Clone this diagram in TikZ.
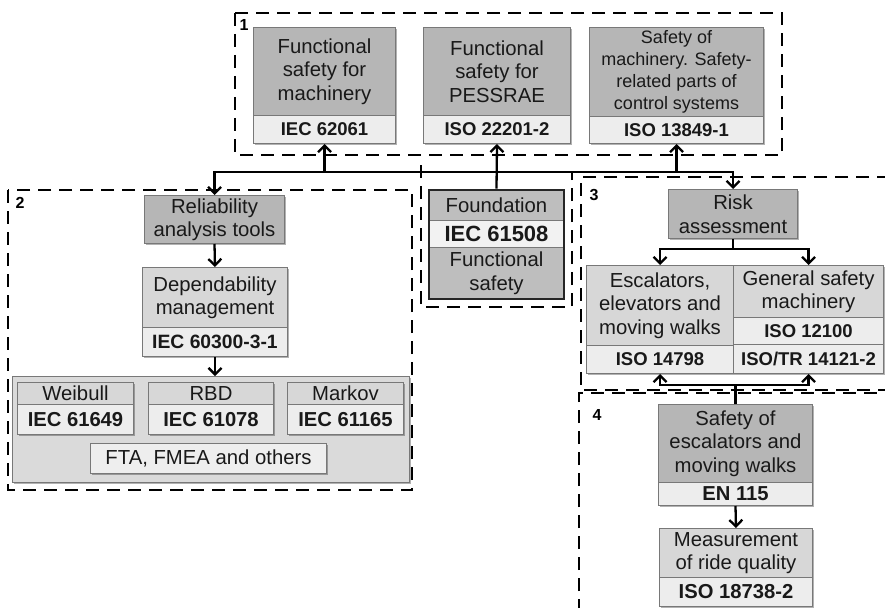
\documentclass[tikz,border=0pt]{standalone}
\usepackage{fontspec}
\setmainfont{Liberation Sans}
\usetikzlibrary{arrows.meta,shadows,fit}
\definecolor{darkfill}{RGB}{182,182,182}
\definecolor{lightfill}{RGB}{215,215,215}
\definecolor{codefill}{RGB}{237,237,237}
\definecolor{contfill}{RGB}{218,218,218}
\definecolor{ftafill}{RGB}{238,238,238}
\definecolor{edgegray}{RGB}{120,120,120}
\definecolor{fndfill}{RGB}{190,190,190}
\newcommand\txtfont{\fontsize{20.3}{23.5}\selectfont}
\newcommand\smalltxtfont{\fontsize{18}{22}\selectfont}
\newcommand\codefont{\fontsize{18.5}{22}\selectfont\bfseries}
\newcommand\codebigfont{\fontsize{20.2}{23}\selectfont\bfseries}
\newcommand\fndcodefont{\fontsize{22}{25}\selectfont\bfseries}
\tikzset{
  x=1pt, y=-1pt,
  base/.style={draw=edgegray, line width=1pt, inner sep=0pt, align=center, anchor=north west, font=\txtfont, text=black!90,
    drop shadow={shadow xshift=1.8pt, shadow yshift=-1.8pt, opacity=0.3, fill=black}},
  dark/.style={base, fill=darkfill},
  light/.style={base, fill=lightfill},
  code/.style={base, fill=codefill, font=\codefont},
  codebig/.style={base, fill=codefill, font=\codebigfont},
  region/.style={draw=black, line width=2.8pt, dash pattern=on 13pt off 8pt},
  regionlabel/.style={font=\fontsize{16}{18}\selectfont\bfseries, inner sep=0pt},
  conn/.style={line width=2.3pt},
  arr/.style={line width=2.3pt, -{Straight Barb[length=6.5pt,width=13pt,line width=2.3pt]}},
}
\begin{document}
\begin{tikzpicture}
\useasboundingbox (0,0) rectangle (885,607);

% ---------- region 1
\draw[region] (235,13) rectangle (782,155);
\node[regionlabel] (l1) at (244,25) {1};
\node[dark, minimum width=142pt, minimum height=88pt] (A) at (253,27) {Functional\\safety for\\machinery};
\node[code, minimum width=142pt, minimum height=28pt] (Ac) at (253,115) {IEC 62061};
\node[dark, minimum width=147pt, minimum height=88pt] (B) at (423,27) {Functional\\safety for\\PESSRAE};
\node[code, minimum width=147pt, minimum height=28pt] (Bc) at (423,115) {ISO 22201-2};
\node[dark, minimum width=174pt, minimum height=89pt, font=\smalltxtfont] (C) at (589,27) {Safety of\\machinery. Safety-\\related parts of\\control systems};
\node[code, minimum width=174pt, minimum height=27pt] (Cc) at (589,116) {ISO 13849-1};

% ---------- foundation
\draw[region] (421,165) -- (421,307) -- (572,307) -- (572,172);
\node[base, fill=fndfill, minimum width=134pt, minimum height=30pt] (F1) at (429,190) {Foundation};
\node[base, fill=codefill!70!white, minimum width=134pt, minimum height=27pt, font=\fndcodefont] (F2) at (429,220) {IEC 61508};
\node[base, fill=fndfill, minimum width=134pt, minimum height=51pt] (F3) at (429,247) {Functional\\safety};
\node[fit=(F1)(F3), draw=black!85, line width=2.8pt, inner sep=0pt] (F) {};

% ---------- region 2
\draw[region] (8,190) rectangle (412,490);
\node[regionlabel] (l2) at (20,203) {2};
\node[dark, minimum width=140pt, minimum height=48pt] (Rel) at (144,195) {Reliability\\analysis tools};
\node[light, minimum width=145pt, minimum height=60pt] (Dep) at (142,267) {Dependability\\management};
\node[code, font=\fontsize{19.3}{22}\selectfont\bfseries, minimum width=145pt, minimum height=29pt] (Depc) at (142,327) {IEC 60300-3-1};
\node[base, fill=contfill, minimum width=397pt, minimum height=106pt] (Cont) at (12,376) {};
\node[light, minimum width=116pt, minimum height=22pt] (Wei) at (17,382) {Weibull};
\node[codebig, minimum width=116pt, minimum height=30pt] (Weic) at (17,404) {IEC 61649};
\node[light, minimum width=125pt, minimum height=22pt] (RBD) at (148,382) {RBD};
\node[codebig, minimum width=125pt, minimum height=30pt] (RBDc) at (148,404) {IEC 61078};
\node[light, minimum width=116pt, minimum height=22pt] (Mar) at (287,382) {Markov};
\node[codebig, minimum width=116pt, minimum height=30pt] (Marc) at (287,404) {IEC 61165};
\node[base, fill=ftafill, minimum width=236pt, minimum height=30pt] (FTA) at (90,443) {FTA, FMEA and others};

% ---------- region 3
\draw[region] (890,177) -- (581,177) -- (581,390) -- (890,390);
\node[regionlabel] (l3) at (594,195) {3};
\node[dark, minimum width=129pt, minimum height=49pt] (Risk) at (668,189) {Risk\\assessment};
\node[light, minimum width=147pt, minimum height=80pt] (Esc) at (586,265) {Escalators,\\elevators and\\moving walks};
\node[code, minimum width=147pt, minimum height=28pt] (Escc) at (586,345) {ISO 14798};
\node[light, minimum width=150pt, minimum height=52pt] (Gen) at (733,265) {General safety\\machinery};
\node[code, minimum width=150pt, minimum height=27pt] (Genc) at (733,317) {ISO 12100};
\node[code, minimum width=150pt, minimum height=29pt] (Gend) at (733,344) {ISO/TR 14121-2};

% ---------- region 4
\draw[region] (579,612) -- (579,393) -- (890,393);
\node[regionlabel] (l4) at (597,415) {4};
\node[dark, minimum width=154pt, minimum height=78pt] (Saf) at (658,404) {Safety of\\escalators and\\moving walks};
\node[codebig, minimum width=154pt, minimum height=23pt] (Safc) at (658,482) {EN 115};
\node[light, minimum width=153pt, minimum height=49pt] (Mea) at (659,528) {Measurement\\of ride quality};
\node[codebig, minimum width=153pt, minimum height=29pt] (Meac) at (659,577) {ISO 18738-2};

% ---------- connectors
\coordinate (bus) at (0,172);
\draw[arr] (F.north) -- (Bc.south);
\draw[arr] (F.north |- bus) -| (Rel.north);
\draw[arr] (F.north |- bus) -| (Risk.north);
\draw[arr] (Ac.south |- bus) -- (Ac.south);
\draw[arr] (Cc.south |- bus) -- (Cc.south);

\draw[arr] (Rel.south) -- (Dep.north);
\draw[arr] (Depc.south) -- (Depc.south |- Cont.north);

\coordinate (rk) at (Risk.south |- 0,249);
\draw[conn] (Risk.south) -- (rk);
\draw[arr] (rk) -| (Esc.north);
\draw[arr] (rk) -| (Gen.north);

\coordinate (sk) at (Saf.north |- 0,385);
\draw[conn] (Saf.north) -- (sk);
\draw[arr] (sk) -| (Escc.south);
\draw[arr] (sk) -| (Gend.south);

\draw[arr] (Safc.south) -- (Mea.north);
\end{tikzpicture}
\end{document}
